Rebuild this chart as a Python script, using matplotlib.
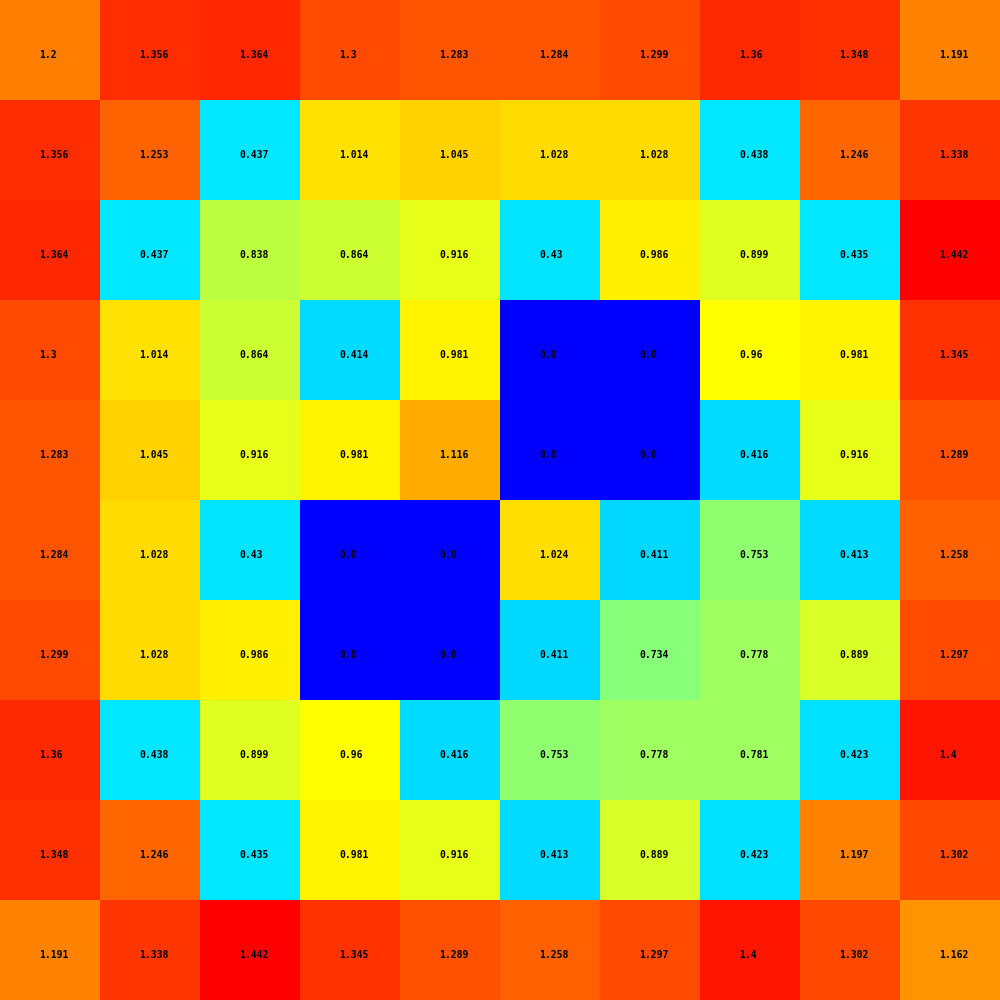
import matplotlib
matplotlib.use('Agg')
import matplotlib.pyplot as plt
import numpy as np
from matplotlib.colors import LinearSegmentedColormap

# grid values, row by row from the top
row0 = [1.2, 1.356, 1.364, 1.3, 1.283, 1.284, 1.299, 1.36, 1.348, 1.191]
row1 = [1.356, 1.253, 0.437, 1.014, 1.045, 1.028, 1.028, 0.438, 1.246, 1.338]
row2 = [1.364, 0.437, 0.838, 0.864, 0.916, 0.43, 0.986, 0.899, 0.435, 1.442]
row3 = [1.3, 1.014, 0.864, 0.414, 0.981, 0.0, 0.0, 0.96, 0.981, 1.345]
row4 = [1.283, 1.045, 0.916, 0.981, 1.116, 0.0, 0.0, 0.416, 0.916, 1.289]
row5 = [1.284, 1.028, 0.43, 0.0, 0.0, 1.024, 0.411, 0.753, 0.413, 1.258]
row6 = [1.299, 1.028, 0.986, 0.0, 0.0, 0.411, 0.734, 0.778, 0.889, 1.297]
row7 = [1.36, 0.438, 0.899, 0.96, 0.416, 0.753, 0.778, 0.781, 0.423, 1.4]
row8 = [1.348, 1.246, 0.435, 0.981, 0.916, 0.413, 0.889, 0.423, 1.197, 1.302]
row9 = [1.191, 1.338, 1.442, 1.345, 1.289, 1.258, 1.297, 1.4, 1.302, 1.162]

grid = np.array([row0, row1, row2, row3, row4, row5, row6, row7, row8, row9])

# blue -> cyan -> yellow -> red, evenly spaced
cmap = LinearSegmentedColormap.from_list(
    'bcyr', ['#0000ff', '#00ffff', '#ffff00', '#ff0000'])

fig = plt.figure(figsize=(10, 10), dpi=100)
ax = fig.add_axes([0, 0, 1, 1])
ax.imshow(grid, cmap=cmap, vmin=grid.min(), vmax=grid.max(),
          interpolation='nearest', aspect='auto')

for i in range(grid.shape[0]):
    for j in range(grid.shape[1]):
        ax.text(j - 0.11, i + 0.05, str(grid[i, j]), ha='left', va='center',
                fontsize=7, fontweight='bold', family='DejaVu Sans Mono',
                color='black')

ax.set_axis_off()
fig.savefig('out.png', dpi=100)
